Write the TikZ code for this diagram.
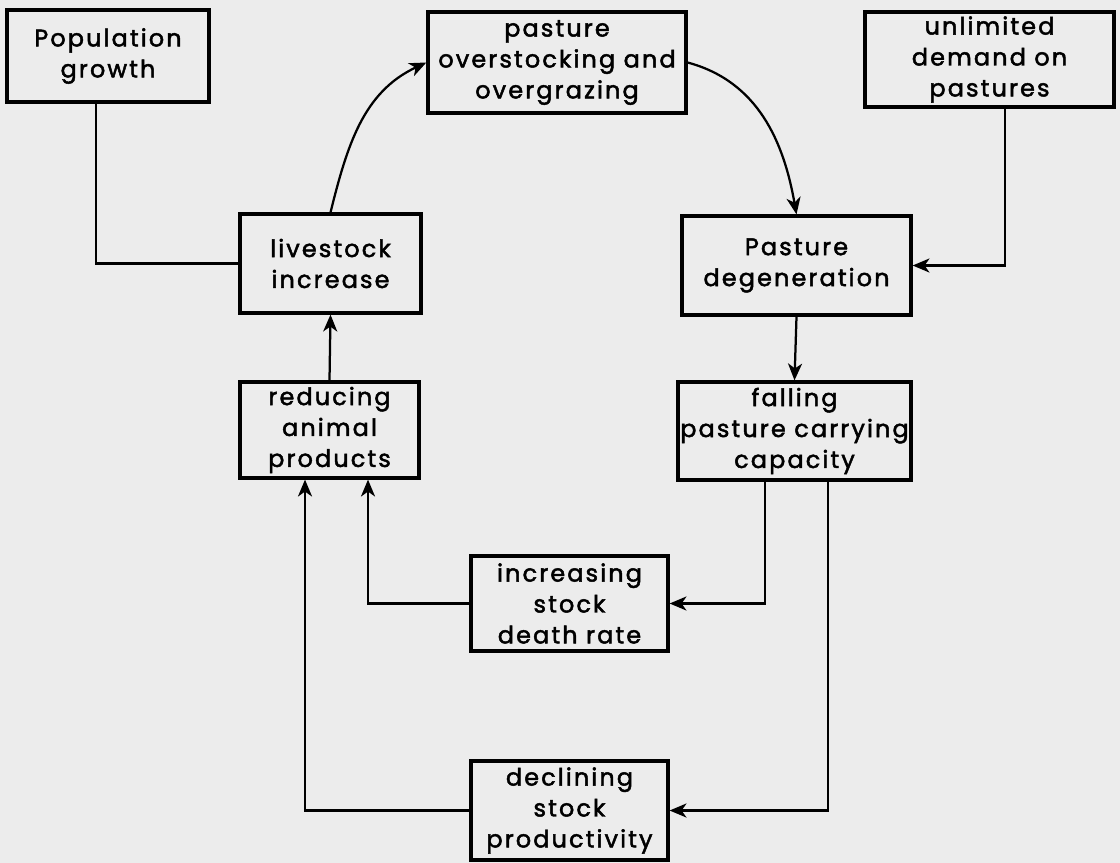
\documentclass[tikz,border=0pt]{standalone}
\usepackage{fontspec}
\setsansfont{Poppins}[LetterSpace=9, FakeBold=2]
\usepackage{tikz}
\usetikzlibrary{positioning}
\usetikzlibrary{%
  calc,%
  arrows.meta%
}
\definecolor{paper}{RGB}{236,236,236}

\begin{document}
\begin{tikzpicture}[x=0.025cm, y=-0.025cm, line width=1.6pt,
  arr/.style={-{Stealth[length=12pt,width=10pt,inset=3.5pt]}},
  box/.style={draw, line width=2.3pt, align=center, inner sep=0pt,
    font=\sffamily\fontsize{17}{22}\selectfont},
  every path/.style={line cap=rect}]
\useasboundingbox[fill=paper] (0,0) rectangle (1120,863);
\node[box, minimum width=202*0.025cm, minimum height=92*0.025cm] (pop) at (108,56) {Population\\growth};
\node[box, minimum width=258*0.025cm, minimum height=101*0.025cm] (over) at (557,62.5) {pasture\\overstocking and\\overgrazing};
\node[box, minimum width=249*0.025cm, minimum height=95*0.025cm] (unlim) at (989.5,59.5) {unlimited\\demand on\\pastures};
\node[box, minimum width=181*0.025cm, minimum height=99*0.025cm] (live) at (330.5,263.5) {livestock\\increase};
\node[box, minimum width=179*0.025cm, minimum height=96*0.025cm] (reduc) at (329.5,430) {reducing\\animal\\products};
\node[box, minimum width=229*0.025cm, minimum height=99*0.025cm] (degen) at (796.5,265.5) {Pasture\\degeneration};
\node[box, minimum width=233*0.025cm, minimum height=98*0.025cm] (fall) at (794.5,431) {falling\\pasture carrying\\capacity};
\node[box, minimum width=197*0.025cm, minimum height=95*0.025cm] (death) at (569.5,603.5) {increasing\\stock\\death rate};
\node[box, minimum width=197*0.025cm, minimum height=99*0.025cm] (decl) at (569.5,810.5) {declining\\stock\\productivity};
\draw (pop.south -| 96,0) |- (live.west);
\draw[arr] (live.north) to[out=76, in=205] (over.west);
\draw[arr] (over.east) to[out=-15, in=100] (degen.north);
\draw[arr] (unlim.south -| 1005,0) |- (degen.east);
\draw[arr] (degen.south) -- (fall.north);
\draw[arr] (reduc.north) -- (live.south);
\draw[arr] (fall.south -| 765,0) |- (death.east);
\draw[arr] (fall.south -| 828,0) |- (decl.east);
\draw[arr] (death.west) -| (reduc.south -| 368,0);
\draw[arr] (decl.west) -| (reduc.south -| 305,0);
\end{tikzpicture}
\end{document}
